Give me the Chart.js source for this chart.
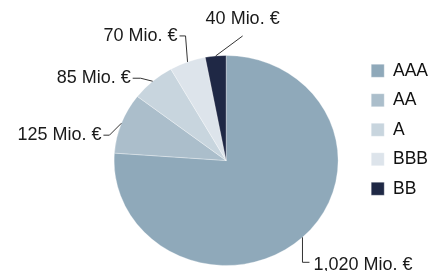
<!DOCTYPE html>
<html>
<head>
<meta charset="utf-8">
<script src="https://cdn.jsdelivr.net/npm/chart.js@4/dist/chart.umd.min.js"></script>
<style>
  html, body { margin: 0; padding: 0; background: #fff; }
  #pie { display: block; }
</style>
</head>
<body>
<canvas id="pie" width="431" height="271"></canvas>
<script>
const ratings = ['AAA', 'AA', 'A', 'BBB', 'BB'];
const volumes = [1020, 125, 85, 70, 40];
const volumeLabels = ['1,020 Mio. €', '125 Mio. €', '85 Mio. €', '70 Mio. €', '40 Mio. €'];
const sliceColors = ['#8fa9ba', '#abbecb', '#c8d5de', '#dde4eb', '#1f2845'];

const STRETCH = 112 / 105;   // the original pie is a bit wider than tall
const FONT = "'Liberation Sans', Arial, Helvetica, sans-serif";

// how each callout leaves its slice: elbow offset from the rim, then a short tail
const callouts = [
    { dx: 0,   dy: 25,  tail: 7,  align: 'left' },
    { dx: -12, dy: 12,  tail: -6, align: 'right' },
    { dx: -12, dy: -3,  tail: -8, align: 'right' },
    { dx: -2,  dy: -26, tail: -6, align: 'right' },
    { dx: 27,  dy: -20, tail: 0,  align: 'above' }
];

const stretchPlugin = {
    id: 'stretch',
    beforeDatasetsDraw(chart) {
        const arc = chart.getDatasetMeta(0).data[0];
        const ctx = chart.ctx;
        ctx.save();
        ctx.translate(arc.x, arc.y);
        ctx.scale(STRETCH, 1);
        ctx.translate(-arc.x, -arc.y);
    },
    afterDatasetsDraw(chart) {
        chart.ctx.restore();
    }
};

const calloutPlugin = {
    id: 'callouts',
    afterDraw(chart) {
        const ctx = chart.ctx;
        const arcs = chart.getDatasetMeta(0).data;
        ctx.save();
        ctx.strokeStyle = '#333';
        ctx.lineWidth = 1;
        ctx.fillStyle = '#1a1a1a';
        ctx.font = '18px ' + FONT;
        arcs.forEach((arc, i) => {
            const c = callouts[i];
            const mid = (arc.startAngle + arc.endAngle) / 2;
            const ax = arc.x + arc.outerRadius * STRETCH * Math.cos(mid);
            const ay = arc.y + arc.outerRadius * Math.sin(mid);
            const ex = ax + c.dx, ey = ay + c.dy;
            const tx = ex + c.tail;
            ctx.beginPath();
            ctx.moveTo(ax, ay);
            ctx.lineTo(ex, ey);
            ctx.lineTo(tx, ey);
            ctx.stroke();
            if (c.align === 'above') {
                ctx.textAlign = 'center';
                ctx.textBaseline = 'alphabetic';
                ctx.fillText(volumeLabels[i], ex, ey - 12);
            } else if (c.align === 'left') {
                ctx.textAlign = 'left';
                ctx.textBaseline = 'alphabetic';
                ctx.fillText(volumeLabels[i], tx + 4, ey + 8);
            } else {
                ctx.textAlign = 'right';
                ctx.textBaseline = 'middle';
                ctx.fillText(volumeLabels[i], tx - 2, ey);
            }
        });
        ctx.restore();
    }
};

Chart.defaults.font.family = FONT;

new Chart(document.getElementById('pie'), {
    type: 'pie',
    data: {
        labels: ratings,
        datasets: [{
            data: volumes,
            backgroundColor: sliceColors,
            borderColor: 'rgba(255,255,255,0.6)',
            borderWidth: 0.5,
            radius: 105
        }]
    },
    options: {
        responsive: false,
        animation: false,
        events: [],
        layout: {
            padding: { top: 50, bottom: -3, left: 93, right: -7 }
        },
        plugins: {
            legend: {
                position: 'right',
                align: 'start',
                labels: {
                    color: '#111',
                    boxWidth: 13,
                    boxHeight: 13,
                    padding: 12,
                    font: { size: 17.5 }
                }
            },
            tooltip: { enabled: false }
        }
    },
    plugins: [stretchPlugin, calloutPlugin]
});
</script>
</body>
</html>
